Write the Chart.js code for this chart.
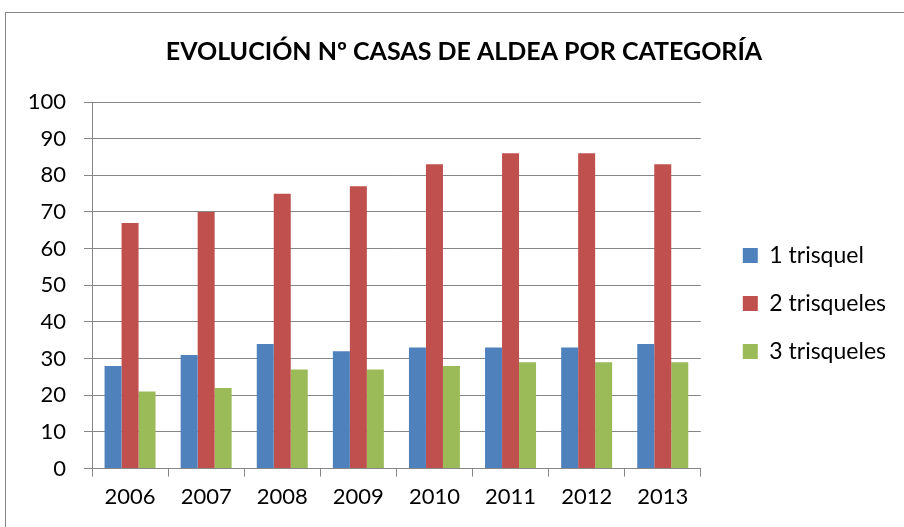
<!DOCTYPE html>
<html>
<head>
<meta charset="utf-8">
<script src="https://cdn.jsdelivr.net/npm/chart.js@4/dist/chart.umd.min.js"></script>
<style>
  html, body { margin: 0; padding: 0; background: #fff; }
  #wrap { position: relative; width: 904px; height: 527px; overflow: hidden; }
  #frame {
    position: absolute; left: 5px; top: 12px; width: 1000px; height: 1000px;
    border: 1px solid #868686; pointer-events: none;
  }
</style>
</head>
<body>
<div id="wrap">
  <canvas id="chart" width="904" height="527"></canvas>
  <div id="frame"></div>
</div>
<script>
const YEARS = ['2006', '2007', '2008', '2009', '2010', '2011', '2012', '2013'];
const UNO = [28, 31, 34, 32, 33, 33, 33, 34];
const DOS = [67, 70, 75, 77, 83, 86, 86, 83];
const TRES = [21, 22, 27, 27, 28, 29, 29, 29];

const SERIES = [
  { label: '1 trisquel', data: UNO, color: '#4F81BD' },
  { label: '2 trisqueles', data: DOS, color: '#C0504D' },
  { label: '3 trisqueles', data: TRES, color: '#9BBB59' },
];

const GRID = '#868686';
const FONT = 'Lato';
const PAD_L = 24;
const LEGEND_EXTRA = 25;   // extra width reserved for the legend
const LEGEND_SHIFT = 17;   // how much of it sits between plot and legend

Chart.defaults.font.family = FONT;
Chart.defaults.color = '#000';

// widen the legend box and push its items away from the plot area
const legendSpace = {
  id: 'legendSpace',
  beforeLayout(chart) {
    const lg = chart.legend;
    if (lg && !lg._widened) {
      const fit = lg.fit;
      lg.fit = function () { fit.call(this); this.width += LEGEND_EXTRA; };
      lg._widened = true;
    }
  },
  afterLayout(chart) {
    chart.legend.left += LEGEND_SHIFT;
  },
};

new Chart(document.getElementById('chart').getContext('2d'), {
  type: 'bar',
  data: {
    labels: YEARS,
    datasets: SERIES.map((s) => ({
      label: s.label,
      data: s.data,
      backgroundColor: s.color,
      borderWidth: 0,
      categoryPercentage: 0.67,
      barPercentage: 1,
    })),
  },
  plugins: [legendSpace],
  options: {
    responsive: false,
    animation: false,
    layout: { padding: { top: 30, left: PAD_L, right: 0, bottom: 10 } },
    plugins: {
      title: {
        display: true,
        text: 'EVOLUCIÓN Nº CASAS DE ALDEA POR CATEGORÍA',
        color: '#000',
        font: { family: FONT, size: 25, weight: 'bold', lineHeight: 1.2 },
        padding: { top: 7, bottom: 35 },
      },
      legend: {
        position: 'right',
        title: { display: true, text: ' ', font: { size: 10, lineHeight: 1.2 }, padding: { top: 48, bottom: 0 } },
        labels: {
          color: '#000',
          font: { family: FONT, size: 23 },
          boxWidth: 15,
          boxHeight: 15,
          padding: 25,
        },
      },
      tooltip: { enabled: false },
    },
    scales: {
      y: {
        min: 0,
        max: 100,
        ticks: { stepSize: 10, padding: 18, font: { size: 22 }, color: '#000' },
        grid: { color: GRID, tickLength: 8 },
        border: { color: GRID },
        afterFit: (s) => { s.width = 92 - PAD_L; },
      },
      x: {
        ticks: { padding: 7, font: { size: 22 }, color: '#000' },
        grid: { color: GRID, tickLength: 8, drawOnChartArea: false, offset: true },
        border: { color: GRID },
      },
    },
  },
});
</script>
</body>
</html>
